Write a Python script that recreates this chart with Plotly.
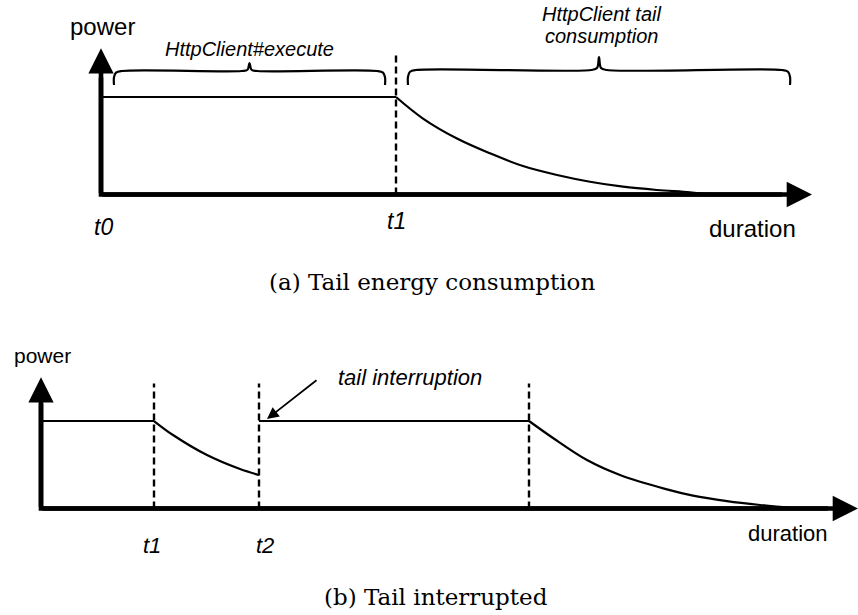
import plotly.graph_objects as go

# ---- Panel (a): tail energy consumption -------------------------------
# time in sketch units, power normalised to the active level
a_exec_t = [0.0, 29.5]
a_exec_p = [1.0, 1.0]
a_tail_t = [29.5, 32.2, 35.6, 38.9, 42.2, 45.6, 48.9, 52.2, 55.6, 58.9, 61.0]
a_tail_p = [1.0, 0.779, 0.574, 0.422, 0.292, 0.200, 0.131, 0.080, 0.046, 0.022, 0.0]
a_marks = [29.5]                    # dashed event marker (t1)
a_brace_exec = [1.3, 28.4]
a_brace_tail = [30.7, 68.9]
a_time_labels = ["t0", "t1"]
a_time_pos = [0.2, 29.5]

# ---- Panel (b): tail interrupted ---------------------------------------
b_exec1_t = [0.0, 11.3]
b_exec1_p = [1.0, 1.0]
b_tail1_t = [11.3, 13.2, 16.6, 19.9, 21.8]
b_tail1_p = [1.0, 0.84, 0.611, 0.451, 0.383]
b_exec2_t = [21.8, 48.8]
b_exec2_p = [1.0, 1.0]
b_tail2_t = [48.8, 51.2, 54.6, 57.9, 62.4, 65.2, 68.6, 71.9, 75.6]
b_tail2_p = [1.0, 0.806, 0.554, 0.383, 0.225, 0.148, 0.085, 0.040, 0.0]
b_marks = [11.3, 21.8, 48.8]
b_time_labels = ["t1", "t2"]
b_time_pos = [11.1, 22.4]

AXIS_TOP = 1.5
MARK_TOP = 1.43

fig = go.Figure()

LINE = dict(color="black", width=2.2)
DASH = dict(color="black", width=2.4, dash="7px,4px")


def add_line(t, p, ax, line=LINE, shape="linear"):
    fig.add_trace(go.Scatter(x=t, y=p, mode="lines", line=dict(**line, shape=shape),
                             xaxis=ax[0], yaxis=ax[1], hoverinfo="skip", showlegend=False))


def brace(x0, x1, y_end, y_bar, y_tip, rx=0.8):
    xm = (x0 + x1) / 2
    h1 = y_bar - y_end
    h2 = y_tip - y_bar
    left = [(x0, y_end), (x0, y_end + 0.55 * h1), (x0 + 0.25 * rx, y_bar - 0.12 * h1),
            (x0 + rx, y_bar), (xm - rx, y_bar), (xm - 0.25 * rx, y_bar + 0.15 * h2), (xm, y_tip)]
    right = [(2 * xm - x, y) for x, y in reversed(left[:-1])]
    pts = left + right
    return [p[0] for p in pts], [p[1] for p in pts]


def axis_arrows(xa, ya, xtip, ytip):
    # L-shaped axes with solid heads
    fig.add_trace(go.Scatter(x=[0, 0, xtip - 3], y=[ytip - 0.3, 0, 0], mode="lines",
                             line=dict(color="black", width=4.6),
                             xaxis=xa, yaxis=ya, hoverinfo="skip", showlegend=False))
    for (hx, hy) in [(0, ytip), (xtip, 0)]:
        fig.add_annotation(x=hx, y=hy, ax=0, ay=0, xref=xa, yref=ya, axref=xa, ayref=ya,
                           text="", showarrow=True, arrowhead=2, arrowwidth=4.6,
                           arrowsize=1.1, arrowcolor="black")


# panel (a)
A = ("x", "y")
add_line(a_exec_t, a_exec_p, A)
add_line(a_tail_t, a_tail_p, A, shape="spline")
for m in a_marks:
    add_line([m, m], [0, MARK_TOP], A, line=DASH)
bx, by = brace(a_brace_exec[0], a_brace_exec[1], 1.123, 1.267, 1.349)
add_line(bx, by, A, shape="spline")
bx, by = brace(a_brace_tail[0], a_brace_tail[1], 1.123, 1.277, 1.41)
add_line(bx, by, A, shape="spline")
axis_arrows("x", "y", 71.1, AXIS_TOP)

# panel (b)
B = ("x2", "y2")
add_line(b_exec1_t, b_exec1_p, B)
add_line(b_tail1_t, b_tail1_p, B, shape="spline")
add_line(b_exec2_t, b_exec2_p, B)
add_line(b_tail2_t, b_tail2_p, B, shape="spline")
for m in b_marks:
    add_line([m, m], [0, MARK_TOP], B, line=DASH)
axis_arrows("x2", "y2", 81.7, AXIS_TOP)

SANS = "Liberation Sans"
SERIF = "DejaVu Serif"


def label(x, y, text, xref, yref, size, family=SANS, xanchor="center"):
    fig.add_annotation(x=x, y=y, xref=xref, yref=yref, text=text, showarrow=False,
                       font=dict(family=family, size=size, color="black"),
                       xanchor=xanchor, yanchor="middle")


# panel (a) text
label(0.1, 1.72, "power", "x", "y", 24)
label(14.8, 1.49, "<i>HttpClient#execute</i>", "x", "y", 20)
label(50.0, 1.85, "<i>HttpClient tail</i>", "x", "y", 20)
label(50.0, 1.63, "<i>consumption</i>", "x", "y", 20)
for name, pos in zip(a_time_labels, a_time_pos):
    label(pos, -0.33 if name == "t0" else -0.27, f"<i>{name}</i>", "x", "y", 23)
label(65.1, -0.35, "duration", "x", "y", 24)
label(0.5035, 0.5415, "(a) Tail energy consumption", "paper", "paper", 23, family=SERIF)

# panel (b) text
label(0.1, 1.75, "power", "x2", "y2", 21)
label(36.9, 1.50, "<i>tail interruption</i>", "x2", "y2", 22)
fig.add_annotation(x=22.6, y=1.023, ax=27.7, ay=1.48, xref="x2", yref="y2",
                   axref="x2", ayref="y2", text="", showarrow=True, arrowhead=2,
                   arrowwidth=1.8, arrowsize=1.3, arrowcolor="black")
for name, pos in zip(b_time_labels, b_time_pos):
    label(pos, -0.42, f"<i>{name}</i>", "x2", "y2", 22)
label(74.7, -0.28, "duration", "x2", "y2", 22)
label(0.508, 0.029, "(b) Tail interrupted", "paper", "paper", 23, family=SERIF)

hidden = dict(visible=False, showgrid=False, zeroline=False, fixedrange=True)
fig.update_layout(
    width=858, height=615,
    margin=dict(l=0, r=0, t=0, b=0),
    paper_bgcolor="white", plot_bgcolor="white",
    xaxis=dict(hidden, range=[-10.1, 75.7], domain=[0, 1], anchor="y"),
    yaxis=dict(hidden, range=[-1.154, 1.995], domain=[1 - 307 / 615, 1], anchor="x"),
    xaxis2=dict(hidden, range=[-4.1, 81.7], domain=[0, 1], anchor="y2"),
    yaxis2=dict(hidden, range=[-1.217, 2.303], domain=[0, 1 - 307 / 615], anchor="x2"),
)

fig.write_html("out.html", config={"displayModeBar": False})
